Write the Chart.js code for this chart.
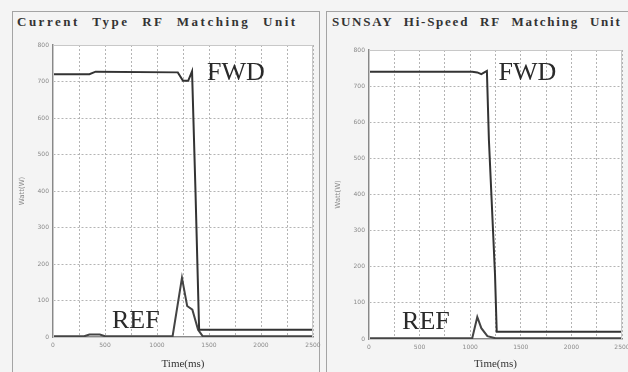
<!DOCTYPE html>
<html><head><meta charset="utf-8">
<script src="https://cdn.jsdelivr.net/npm/chart.js@4"></script>
<style>
html,body{margin:0;padding:0;background:#f4f4f4;width:628px;height:372px;overflow:hidden;position:relative;font-family:"Liberation Serif",serif}
.box{position:absolute;border:1.5px solid #a4a4a4;}
.title{position:absolute;top:14px;font-weight:bold;font-size:13px;color:#333;white-space:nowrap;font-family:"Liberation Serif",serif}
.cv{position:absolute;top:30px;height:342px}
</style></head><body>
<div class="box" style="left:12px;top:11px;width:306px;height:370px"></div>
<div class="box" style="left:326px;top:11px;width:310px;height:370px"></div>
<div class="title" id="t1" style="left:17px;letter-spacing:2.5px;word-spacing:7px"></div>
<div class="title" id="t2" style="left:332px;letter-spacing:1.75px;word-spacing:6px"></div>
<div class="cv" style="left:0;width:333px"><canvas id="c1"></canvas></div>
<div class="cv" style="left:322px;width:320px"><canvas id="c2"></canvas></div>
<script>
// ---- data (time in ms, power in W) ----
const leftFwdTime  = [0, 350, 410, 1200, 1250, 1300, 1337, 1370, 1405, 2500];
const leftFwdWatt  = [720, 720, 727, 725, 702, 702, 728, 400, 20, 20];
const leftRefTime  = [0, 300, 350, 450, 500, 1150, 1240, 1290, 1340, 1395, 1440, 2500];
const leftRefWatt  = [2, 2, 7, 7, 2, 2, 162, 85, 75, 20, 2, 2];
const rightFwdTime = [0, 1020, 1070, 1110, 1165, 1185, 1245, 1262, 2500];
const rightFwdWatt = [740, 740, 738, 733, 742, 550, 180, 20, 20];
const rightRefTime = [0, 1020, 1070, 1110, 1170, 1250, 2500];
const rightRefWatt = [2, 2, 61, 30, 8, 2, 2];
const yTicks = [0, 100, 200, 300, 400, 500, 600, 700, 800];
const xTicks = [0, 500, 1000, 1500, 2000, 2500];
const leftTitle = "Current Type RF Matching Unit";
const rightTitle = "SUNSAY Hi-Speed RF Matching Unit";
const xTitle = "Time(ms)";
const yTitle = "Watt(W)";
const leftLabels  = [{text:"FWD", x:1480, y:704}, {text:"REF", x:567, y:25}];
const rightLabels = [{text:"FWD", x:1280, y:717}, {text:"REF", x:327, y:28}];

document.getElementById('t1').textContent = leftTitle;
document.getElementById('t2').textContent = rightTitle;

function pts(t, w){ return t.map((v,i)=>({x:v, y:w[i]})); }

const annotPlugin = {
  id: 'annot',
  beforeDraw(chart){
    const {ctx, chartArea:a} = chart;
    ctx.save();
    ctx.fillStyle = '#fff';
    ctx.fillRect(a.left, a.top, a.right-a.left, a.bottom-a.top);
    ctx.restore();
  },
  afterDatasetsDraw(chart, args, opts){
    const {ctx, chartArea:a, scales:{x,y}} = chart;
    ctx.save();
    ctx.strokeStyle = '#c8c8c8';
    ctx.lineWidth = 1;
    ctx.strokeRect(a.left+0.5, a.top+0.5, a.right-a.left-1, a.bottom-a.top);
    ctx.font = '26px "Liberation Serif", serif';
    ctx.fillStyle = '#2a2a2a';
    ctx.textBaseline = 'alphabetic';
    (opts.labels||[]).forEach(l=>{
      ctx.fillText(l.text, x.getPixelForValue(l.x), y.getPixelForValue(l.y));
    });
    ctx.restore();
  }
};

function makeChart(id, fwdT, fwdW, refT, refW, labels, pad, yW, xH){
  return new Chart(document.getElementById(id), {
    type: 'line',
    data: { datasets: [
      {data: pts(fwdT, fwdW), borderColor:'#333', borderWidth:2, pointRadius:0, tension:0, fill:false},
      {data: pts(refT, refW), borderColor:'#444', borderWidth:2, pointRadius:0, tension:0, fill:false}
    ]},
    plugins: [annotPlugin],
    options: {
      responsive: true, maintainAspectRatio: false, animation: false,
      layout: { padding: pad },
      plugins: { legend:{display:false}, tooltip:{enabled:false}, annot:{labels} },
      scales: {
        x: {
          type:'linear', min:0, max:2500,
          afterBuildTicks(s){ s.ticks = []; for(let v=0; v<=2500; v+=250) s.ticks.push({value:v}); },
          ticks:{ autoSkip:false, maxRotation:0, padding:5, color:'#8a8a8a', font:{size:6, family:'"DejaVu Sans", sans-serif'},
            callback:(v)=> xTicks.includes(v) ? String(v) : '' },
          grid:{ color:'#b4b4b4', lineWidth:1, drawTicks:false },
          border:{ color:'#888', width:1.5, dash:[2,2] },
          title:{ display:true, text:xTitle, color:'#333', font:{size:11, family:'"Liberation Serif", serif'}, padding:{top:2,bottom:1} },
          afterFit(s){ s.height = xH; }
        },
        y: {
          type:'linear', min:0, max:800,
          afterBuildTicks(s){ s.ticks = yTicks.map(v=>({value:v})); },
          ticks:{ padding:4, color:'#8a8a8a', font:{size:6, family:'"DejaVu Sans", sans-serif'} },
          grid:{ color:'#b4b4b4', lineWidth:1, drawTicks:false },
          border:{ color:'#888', width:1.5, dash:[2,2] },
          title:{ display:true, text:yTitle, color:'#8a8a8a', font:{size:7, family:'"DejaVu Sans", sans-serif'}, padding:{top:2,bottom:2} },
          afterFit(s){ s.width = yW; }
        }
      }
    }
  });
}

makeChart('c1', leftFwdTime, leftFwdWatt, leftRefTime, leftRefWatt, leftLabels, {left:16, right:20, top:15, bottom:0}, 37, 35);
makeChart('c2', rightFwdTime, rightFwdWatt, rightRefTime, rightRefWatt, rightLabels, {left:10, right:20, top:20, bottom:0}, 37, 33);
</script>
</body></html>
